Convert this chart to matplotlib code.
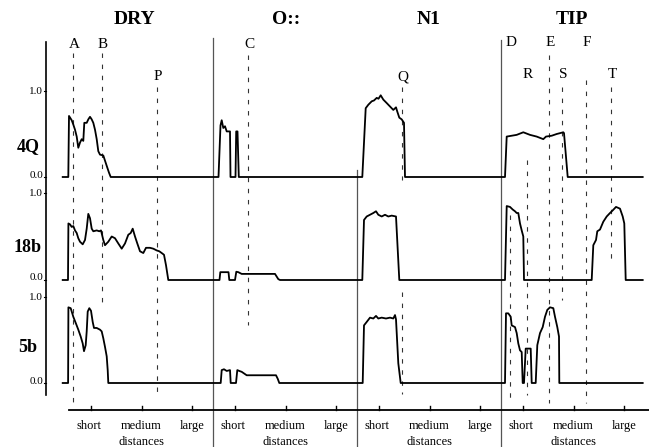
import matplotlib
matplotlib.use("Agg")
import matplotlib.pyplot as plt

plt.rcParams['font.family'] = ['Liberation Serif', 'DejaVu Serif']

# panels and rows
panels = ["DRY", "O::", "N1", "TIP"]
rows = ["4Q", "18b", "5b"]
dist_labels = ["short", "medium", "large"]
dist_ticks = [22, 72.5, 123]      # distance inside one panel
panel_w = 144
row_start, row_end = -6.3, 141.7  # first / last panel

# profiles: local distance inside the panel, relative value (0..1)
q4_dry_x = [-0.7, 0, 2.7, 4.3, 6, 7.7, 9.3, 11, 12.7, 14.3, 15.3, 17.7, 19.3, 21, 22.7,
            24.3, 26, 27.7, 29.3, 31, 34.3, 36, 37.7, 40, 41.7]
q4_dry_v = [0, 0.71, 0.66, 0.61, 0.55, 0.47, 0.34, 0.40, 0.44, 0.42, 0.63, 0.63, 0.67, 0.70, 0.67,
            0.63, 0.55, 0.44, 0.30, 0.26, 0.25, 0.19, 0.13, 0.05, 0]
q4_o_x = [5.5, 7.5, 8.7, 10.3, 12, 13.7, 17, 17.5, 22.5, 23.2, 24.5, 25.8]
q4_o_v = [0, 0.60, 0.66, 0.57, 0.59, 0.53, 0.53, 0, 0, 0.53, 0.53, 0]
q4_n1_x = [5.3, 8.7, 11.3, 14.7, 17, 19.7, 21.5, 23.7, 26.3, 29.7, 33, 36.3, 39, 40.3, 42.3, 44.7, 47, 48]
q4_n1_v = [0, 0.80, 0.84, 0.88, 0.89, 0.92, 0.91, 0.95, 0.90, 0.86, 0.82, 0.78, 0.81, 0.76, 0.69, 0.67, 0.63, 0]
q4_tip_x = [4, 5.7, 10.7, 15.7, 22.3, 29, 35.7, 42.3, 45, 50.7, 55.7, 62.3, 63, 66.7]
q4_tip_v = [0, 0.47, 0.48, 0.49, 0.52, 0.49, 0.47, 0.44, 0.47, 0.48, 0.50, 0.52, 0.51, 0]

b18_dry_x = [-1.0, -0.6, 1, 2.7, 4.3, 6, 7.7, 9.3, 11, 13.7, 16, 17.7, 19.3, 21, 22.7, 24.3, 27.7,
             30.3, 32, 34.3, 36, 39.3, 42.7, 46, 49.3, 52.7, 56, 59.3, 61.7, 63.7, 66, 68.3, 71,
             74.3, 77, 81, 84.3, 87.7, 90.3, 92.7, 95, 97, 99.3]
b18_dry_v = [0, 0.65, 0.64, 0.61, 0.62, 0.57, 0.54, 0.48, 0.44, 0.41, 0.46, 0.59, 0.76, 0.71, 0.59,
             0.56, 0.57, 0.56, 0.57, 0.46, 0.40, 0.44, 0.50, 0.48, 0.42, 0.36, 0.42, 0.52, 0.54,
             0.59, 0.50, 0.42, 0.33, 0.31, 0.37, 0.37, 0.36, 0.34, 0.33, 0.31, 0.29, 0.17, 0]
b18_o_x = [6.5, 7.3, 13.7, 15.5, 16.3, 22, 23.3, 25.3, 28.7, 37, 47, 62, 65.3, 67]
b18_o_v = [0, 0.09, 0.09, 0.09, 0, 0, 0.095, 0.09, 0.07, 0.07, 0.07, 0.07, 0.01, 0]
b18_n1_x = [5.3, 7, 9.7, 13, 16.3, 19, 21.3, 24.7, 28, 31.3, 34.7, 39, 42.3]
b18_n1_v = [0, 0.69, 0.73, 0.75, 0.77, 0.79, 0.75, 0.73, 0.75, 0.73, 0.74, 0.73, 0]
b18_tip_x = [4, 5.7, 9, 11.7, 14, 15.7, 17.3, 19, 20.7, 22.3, 23, 90.7, 92.3, 95, 96.3, 99, 102.3,
             105.7, 109, 111.7, 115, 119, 121.7, 123.3, 124.7]
b18_tip_v = [0, 0.85, 0.84, 0.81, 0.79, 0.77, 0.77, 0.65, 0.57, 0.50, 0, 0, 0.40, 0.46, 0.56, 0.58,
             0.67, 0.73, 0.77, 0.80, 0.84, 0.82, 0.73, 0.65, 0]

b5_dry_x = [-0.9, -0.6, 1.7, 4.3, 7, 9.3, 11.7, 13.7, 15, 16.7, 17.7, 18.7, 20.3, 22, 23.7, 25,
            27.7, 31, 32.7, 34.3, 36, 37.7, 38.7, 39.3]
b5_dry_v = [0, 0.88, 0.87, 0.77, 0.69, 0.62, 0.54, 0.46, 0.37, 0.44, 0.60, 0.83, 0.87, 0.84, 0.71,
            0.64, 0.64, 0.62, 0.60, 0.52, 0.42, 0.31, 0.15, 0]
b5_o_x = [7.7, 8.7, 11, 13.7, 17, 17.7, 23, 24.3, 26.3, 28.7, 33.7, 40.3, 53.7, 63, 64.7, 66.3]
b5_o_v = [0, 0.15, 0.16, 0.14, 0.15, 0, 0, 0.15, 0.14, 0.13, 0.09, 0.09, 0.09, 0.09, 0.05, 0]
b5_n1_x = [5.7, 7, 9.7, 13, 16.3, 19, 21.3, 24.7, 29, 33, 36.3, 38, 39, 41.3, 43.7]
b5_n1_v = [0, 0.67, 0.71, 0.76, 0.75, 0.78, 0.75, 0.76, 0.75, 0.76, 0.75, 0.79, 0.74, 0.23, 0]
b5_tip_x = [4, 5, 7.3, 9.7, 10.7, 14, 15.7, 17.3, 19, 20.7, 21.7, 23, 24.7, 29.7, 30.7, 34.7,
            36.3, 39, 41.7, 44, 46.3, 49, 52.3, 54, 56.3, 58, 58.3]
b5_tip_v = [0, 0.81, 0.81, 0.77, 0.67, 0.65, 0.58, 0.46, 0.38, 0.36, 0, 0, 0.40, 0.40, 0, 0,
            0.44, 0.58, 0.65, 0.77, 0.85, 0.88, 0.87, 0.77, 0.65, 0.54, 0]

profiles = [
    [(q4_dry_x, q4_dry_v), (q4_o_x, q4_o_v), (q4_n1_x, q4_n1_v), (q4_tip_x, q4_tip_v)],
    [(b18_dry_x, b18_dry_v), (b18_o_x, b18_o_v), (b18_n1_x, b18_n1_v), (b18_tip_x, b18_tip_v)],
    [(b5_dry_x, b5_dry_v), (b5_o_x, b5_o_v), (b5_n1_x, b5_n1_v), (b5_tip_x, b5_tip_v)],
]

# reference marks (panel, distance)
mark_labels = ["A", "B", "P", "C", "Q", "D", "E", "F", "R", "S", "T"]
mark_panel = [0, 0, 0, 1, 2, 3, 3, 3, 3, 3, 3]
mark_dist = [4, 33, 88, 35, 45, 9, 48, 85, 26, 61, 110]

# layout (pixels)
x0 = 69
row_base = [177, 280, 383]
row_scale = [86, 87, 86]
row_label_y = [147, 247, 347]
title_x = [134, 286, 429, 572]
mark_label_y = [45, 45, 76, 45, 77, 43, 43, 43, 74, 74, 74]
mark_spans = [[(53, 402)], [(53, 303)], [(87, 397)], [(55, 325)], [(87, 180), (292, 394)],
              [(215, 403)], [(55, 403)], [(80, 403)], [(160, 395)], [(87, 300)], [(87, 262)]]
sep_top = [38, 170, 40]
axis_y = 410

fig = plt.figure(figsize=(6.49, 4.47), dpi=100)
ax = fig.add_axes([0, 0, 1, 1])
ax.set_xlim(0, 649)
ax.set_ylim(447, 0)
ax.axis('off')

# curves
for r, row in enumerate(profiles):
    base, sc = row_base[r], row_scale[r]
    xs = [x0 + row_start]
    ys = [base]
    for i, (px, pv) in enumerate(row):
        xs += [x0 + i * panel_w + x for x in px]
        ys += [base - v * sc for v in pv]
    xs.append(x0 + 3 * panel_w + row_end)
    ys.append(base)
    ax.plot(xs, ys, color='black', lw=1.3, solid_joinstyle='round', zorder=3)

    ax.text(28, row_label_y[r], rows[r], fontsize=13, fontweight='bold', ha='center', va='center')
    ax.text(43, base - sc, "1.0", fontsize=8, ha='right', va='center')
    ax.text(43, base - 2, "0.0", fontsize=8, ha='right', va='center')
    ax.plot([44, 46], [base - sc, base - sc], color='black', lw=0.8)
    ax.plot([44, 46], [base, base], color='black', lw=0.8)

# reference marks
for k, lab in enumerate(mark_labels):
    mx = x0 + mark_panel[k] * panel_w + mark_dist[k]
    ax.text(mx + 1, mark_label_y[k], lab, fontsize=11, ha='center', va='center')
    for y1, y2 in mark_spans[k]:
        ax.plot([mx, mx], [y1, y2], color='#333333', lw=0.8, linestyle=(0, (4, 6)), zorder=2)

# panel separators
for i in range(1, 4):
    sx = x0 + i * panel_w
    ax.plot([sx, sx], [sep_top[i - 1], 447], color='#555555', lw=0.9)

# left axis
ax.plot([46, 46], [42, 395], color='black', lw=1.2)

# bottom axis
ax.plot([x0, 649], [axis_y, axis_y], color='black', lw=1.3)
for i, name in enumerate(panels):
    for t, lab in zip(dist_ticks, dist_labels):
        tx = x0 + i * panel_w + t
        ax.plot([tx, tx], [axis_y, axis_y - 4], color='black', lw=1.0)
        ax.text(tx - (2 if lab == "short" else 0), 426, lab, fontsize=9, ha='center', va='center')
    ax.text(x0 + i * panel_w + dist_ticks[1], 442, "distances", fontsize=9, ha='center', va='center')
    ax.text(title_x[i], 20, name, fontsize=14, fontweight='bold', ha='center', va='center')

plt.savefig("out.png", dpi=100)
